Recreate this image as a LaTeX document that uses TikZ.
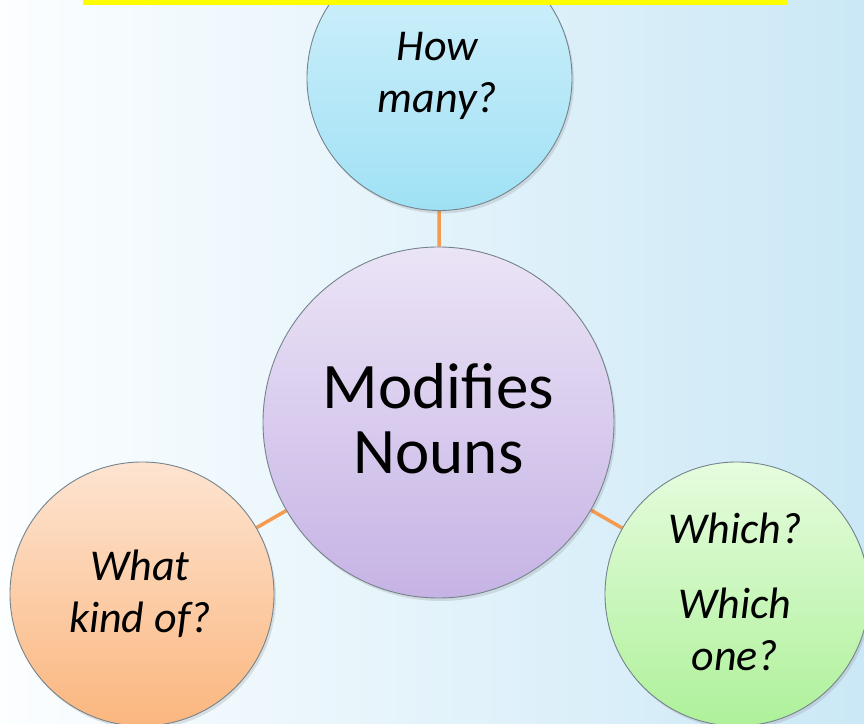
\documentclass[tikz,border=0pt]{standalone}
\usepackage{fontspec}
\setmainfont{Carlito}
\usetikzlibrary{shadows,calc}
\definecolor{linkorange}{HTML}{F59A4E}
\definecolor{rimgray}{HTML}{75838C}
\definecolor{bgwhite}{HTML}{FCFEFF}
\definecolor{bgmid}{HTML}{E6F4FB}
\definecolor{bgblue}{HTML}{CBE8F6}
\definecolor{markyellow}{HTML}{FFFF00}
\definecolor{hubtop}{HTML}{EBE4F6}
\definecolor{hubbot}{HTML}{C6B3E5}
\definecolor{cyantop}{HTML}{D4F1FB}
\definecolor{cyanbot}{HTML}{A0E1F5}
\definecolor{peachtop}{HTML}{FDE4D1}
\definecolor{peachbot}{HTML}{FBB67E}
\definecolor{greentop}{HTML}{E6FCDE}
\definecolor{greenbot}{HTML}{AEF19A}
\pgfdeclarelayer{bg}
\pgfdeclarelayer{edges}
\pgfdeclarelayer{fg}
\pgfsetlayers{bg,edges,main,fg}
\tikzset{
  bubble/.style={circle, draw=rimgray, line width=0.9pt, inner sep=0pt,
    drop shadow={shadow xshift=2pt, shadow yshift=-3pt, opacity=0.22}},
  caption/.style={align=center, text=black, inner sep=0pt},
  smalltext/.style={caption, font=\fontsize{44}{52}\selectfont\itshape},
  bigtext/.style={caption, font=\fontsize{65}{65}\selectfont},
  link/.style={draw=linkorange, line width=3.5pt}
}
\begin{document}
\begin{tikzpicture}[x=1pt,y=1pt]
  \useasboundingbox (0,0) rectangle (864,723);
  \clip (0,0) rectangle (864,723);
  \begin{pgfonlayer}{bg}
    % pale blue backdrop, brighter towards the lower left
    \shade[shading angle=65, left color=bgwhite, middle color=bgmid,
           right color=bgblue] (0,0) rectangle (864,723);
  \end{pgfonlayer}

  % the four circles
  \node[bubble, minimum size=351pt, top color=hubtop, bottom color=hubbot]
        (hub) at (438.5,300.5) {};
  \node[bubble, minimum size=265pt, top color=cyantop, bottom color=cyanbot]
        (count) at (439.5,645) {};
  \node[bubble, minimum size=264pt, top color=peachtop, bottom color=peachbot]
        (kind) at (142,129) {};
  \node[bubble, minimum size=264pt, top color=greentop, bottom color=greenbot]
        (which) at (737,129) {};

  % their captions
  \node[bigtext] (hubtxt) at ($(hub)+(0,4)$) {Modifies\\Nouns};
  \node[smalltext] (counttxt) at ($(count)+(-2,2)$) {How\\many?};
  \node[smalltext] (kindtxt) at ($(kind)+(-2,0)$) {What\\kind of?};
  \node[smalltext] (whichtxt) at ($(which)+(-2,2)$) {Which?\\[23pt]Which\\one?};

  % spokes from the hub
  \begin{pgfonlayer}{edges}
    \draw[link] (hub) -- (count);
    \draw[link] (hub) -- (kind);
    \draw[link] (hub) -- (which);
  \end{pgfonlayer}

  % highlight strip along the top edge
  \begin{pgfonlayer}{fg}
    \fill[markyellow] (83,717.5) rectangle (787,723);
  \end{pgfonlayer}
\end{tikzpicture}
\end{document}
